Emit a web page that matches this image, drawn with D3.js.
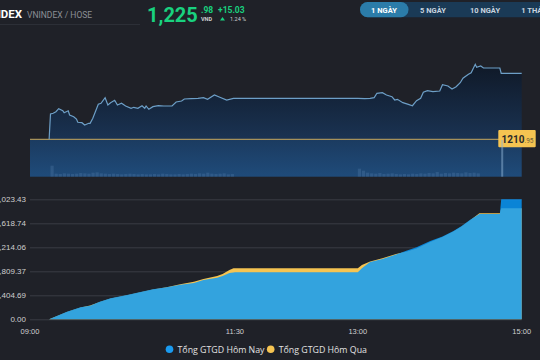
<!DOCTYPE html>
<html><head><meta charset="utf-8">
<script src="https://cdn.jsdelivr.net/npm/d3@7/dist/d3.min.js"></script>
<style>
html,body{margin:0;padding:0;background:#1f2128;overflow:hidden}
svg{display:block}
</style></head><body>
<svg id="c" width="540" height="360"></svg>
<script>
// ---- data ----
const priceTimes = ["09:14","09:15","09:17","09:19","09:21","09:24","09:25","09:28","09:29","09:32","09:34","09:35","09:38","09:40","09:43","09:44","09:46","09:50","09:52","09:55","09:57","09:59","10:02","10:04","10:07","10:10","10:14","10:16","10:19","10:22","10:24","10:25","10:27","10:30","10:34","10:38","10:44","10:47","10:51","10:53","10:58","11:03","11:07","11:10","11:15","11:19","11:24","11:29","11:30","13:00","13:05","13:09","13:12","13:14","13:18","13:21","13:25","13:27","13:29","13:33","13:37","13:40","13:43","13:46","13:48","13:51","13:55","14:00","14:02","14:06","14:09","14:12","14:15","14:17","14:21","14:23","14:26","14:27","14:30","14:32","14:44","14:45","15:00"];
const priceValues = [1210.95,1216.71,1216.87,1217.24,1217.92,1217.46,1217.01,1217.46,1216.49,1216.10,1215.57,1214.82,1214.73,1214.21,1214.59,1214.59,1215.73,1218.92,1219.15,1220.43,1218.76,1219.29,1219.83,1218.76,1219.15,1218.54,1218.01,1218.24,1218.01,1218.60,1218.01,1218.54,1217.78,1218.38,1218.60,1218.54,1218.54,1219.45,1219.67,1220.13,1220.20,1220.29,1220.43,1220.06,1221.04,1220.52,1219.90,1220.29,1220.29,1220.29,1220.20,1220.29,1220.43,1221.43,1221.57,1221.04,1220.65,1219.90,1220.06,1219.29,1218.92,1218.60,1219.74,1220.29,1221.66,1222.02,1221.79,1221.95,1223.39,1223.09,1222.41,1222.93,1223.84,1224.85,1225.76,1226.12,1228.03,1227.35,1227.65,1227.19,1227.19,1225.98,1225.98];
const refPrice = 1210.95;
const lastPrice = "1,225", lastDec = ".98", change = "+15.03", changePct = "1.24 %";

const volMorningStart = "09:15", volAfternoonStart = "13:00", volStepMin = 3;
const volMorning = [33,9,8,10,9,8,9,11,10,9,12,13,10,9,8,9,8,7,8,9,8,7,8,7,7,8,7,9,8,7,7,8,7,8,9,8,10,9,12,9,8,9,10,7,8];
const volAfternoon = [24,18,12,10,9,11,8,9,10,8,7,8,7,9,8,10,9,11,10,14,9,11,10,12,11,10,13,11,12,10];
const volATC = {time:"14:45", value:110};

const valTimes = ["09:14","09:27","09:37","09:44","09:51","09:59","10:11","10:20","10:30","10:40","10:50","11:00","11:07","11:17","11:21","11:26","11:29","11:30","13:00","13:03","13:09","13:18","13:28","13:36","13:43","13:53","14:02","14:10","14:16","14:22","14:29","14:44","14:45","15:00"];
const valToday = [0,761,1202,1363,1763,2104,2435,2705,3006,3206,3467,3637,3938,4168,4350,4639,4700,4709,4709,5110,5741,6042,6493,6893,7214,7845,8296,8847,9348,9949,10551,10551,12023.43,12023.43];
const valYesterday = [0,740,1180,1390,1740,2080,2400,2680,2980,3200,3520,3767,4038,4338,4539,4940,5110,5110,5110,5441,5800,6112,6543,6793,7094,7745,8246,8797,9298,9899,10621,10621,11122,11122];
const valTicks = [0,2404.69,4809.37,7214.06,9618.74,12023.43];
const timeTicks = ["09:00","11:30","13:00","15:00"];
const seriesNames = ["Tổng GTGD Hôm Nay","Tổng GTGD Hôm Qua"];
const ranges = ["1 NGÀY","5 NGÀY","10 NGÀY","1 THÁNG"];

// ---- setup ----
const svg = d3.select("#c");
const parse = s => { const [h,m] = s.split(":").map(Number); return new Date(2000,0,1,h,m); };
const x = d3.scaleTime().domain([parse("09:00"), parse("15:00")]).range([30, 521.7]);
const yP = d3.scaleLinear().domain([1202.43, 1230]).range([176.7, 55.67]);
const yV = d3.scaleLinear().domain([0, 110]).range([176.7, 140]);
const yA = d3.scaleLinear().domain([0, 12023.43]).range([319.3, 199.3]);

const defs = svg.append("defs");
const g1 = defs.append("linearGradient").attr("id","gArea").attr("gradientUnits","userSpaceOnUse")
  .attr("x1",0).attr("x2",0).attr("y1",62).attr("y2",140);
g1.append("stop").attr("offset",0).attr("stop-color","#0f1826");
g1.append("stop").attr("offset",1).attr("stop-color","#1a3353");
const g2 = defs.append("linearGradient").attr("id","gBase").attr("gradientUnits","userSpaceOnUse")
  .attr("x1",0).attr("x2",0).attr("y1",139.3).attr("y2",177);
g2.append("stop").attr("offset",0).attr("stop-color","#1b3b60");
g2.append("stop").attr("offset",1).attr("stop-color","#1f4b7a");

// ---- header ----
svg.append("text").attr("x",22).attr("y",17.5).attr("text-anchor","end")
  .attr("font-family","Roboto").attr("font-weight","bold").attr("font-size",11.5).attr("fill","#ffffff").text("VNINDEX");
svg.append("text").attr("x",27).attr("y",17.5).attr("font-family","Roboto").attr("font-size",8.5)
  .attr("fill","#8c8f96").text("VNINDEX / HOSE");
svg.append("line").attr("x1",0).attr("x2",140).attr("y1",24.5).attr("y2",24.5).attr("stroke","#2c2f37");
const green = "#19d17f";
svg.append("text").attr("x",147).attr("y",21.5).attr("font-family","Roboto").attr("font-weight","bold")
  .attr("font-size",20).attr("fill",green).text(lastPrice);
svg.append("text").attr("x",201).attr("y",13).attr("font-family","Roboto").attr("font-weight","bold")
  .attr("font-size",8.5).attr("fill",green).text(lastDec);
svg.append("text").attr("x",201).attr("y",20.5).attr("font-family","Roboto").attr("font-weight","bold")
  .attr("font-size",5.5).attr("fill","#d0d0d0").text("VND");
svg.append("text").attr("x",218).attr("y",13).attr("font-family","Roboto").attr("font-weight","bold")
  .attr("font-size",8.5).attr("fill",green).text(change);
svg.append("path").attr("d","M220,20.5L222.5,17L225,20.5Z").attr("fill",green);
svg.append("text").attr("x",230).attr("y",20.5).attr("font-family","Roboto")
  .attr("font-size",5.5).attr("fill","#d0d0d0").text(changePct);

// range buttons
svg.append("rect").attr("x",360).attr("y",2).attr("width",200).attr("height",15.3).attr("rx",7.6).attr("fill","#1a3a56");
svg.append("rect").attr("x",360).attr("y",2).attr("width",48.5).attr("height",15.3).attr("rx",7.6).attr("fill","#2b7ca9");
const btnX = [384, 433, 485, 537];
ranges.forEach((r,i) => {
  svg.append("text").attr("x",btnX[i]).attr("y",12.6).attr("text-anchor","middle")
    .attr("font-family","Roboto").attr("font-weight","bold").attr("font-size",7.5)
    .attr("fill", i===0 ? "#ffffff" : "#c9d4df").text(r);
});

// ---- top price panel ----
const priceData = priceTimes.map((t,i) => ({t:parse(t), v:priceValues[i]}));
svg.append("rect").attr("x",x.range()[0]).attr("y",yP(refPrice)).attr("width",x.range()[1]-x.range()[0])
  .attr("height",yP.range()[0]-yP(refPrice)).attr("fill","url(#gBase)");
svg.append("path").datum(priceData)
  .attr("d", d3.area().x(d=>x(d.t)).y0(yP(refPrice)).y1(d=>yP(d.v)))
  .attr("fill","url(#gArea)");

// volume bars
const volData = [];
volMorning.forEach((v,i) => volData.push({t:d3.timeMinute.offset(parse(volMorningStart), i*volStepMin), v}));
volAfternoon.forEach((v,i) => volData.push({t:d3.timeMinute.offset(parse(volAfternoonStart), i*volStepMin), v}));
svg.append("g").selectAll("rect").data(volData).join("rect")
  .attr("x", d=>x(d.t)).attr("width",3.2)
  .attr("y", d=>yV(d.v)).attr("height", d=>yV(0)-yV(d.v))
  .attr("fill","#6f98c2").attr("opacity",0.22);

svg.append("line").attr("x1",x.range()[0]).attr("x2",x.range()[1]).attr("y1",yP(refPrice)).attr("y2",yP(refPrice))
  .attr("stroke","#c9a95e").attr("stroke-width",1);

svg.append("path").datum(priceData)
  .attr("d", d3.line().x(d=>x(d.t)).y(d=>yP(d.v)))
  .attr("fill","none").attr("stroke","#6d9fc7").attr("stroke-width",1.2);

// ref label
const ry = yP(refPrice);
svg.append("rect").attr("x",498.3).attr("y",ry-9.3).attr("width",37.4).attr("height",17.3).attr("rx",1).attr("fill","#f5c451");
svg.append("rect").attr("x",x(parse(volATC.time))).attr("width",2)
  .attr("y",yV(volATC.value)).attr("height",yV(0)-yV(volATC.value))
  .attr("fill","#8fb3d6").attr("opacity",0.5);
const lt = svg.append("text").attr("x",501.5).attr("y",ry+3.6).attr("font-family","Roboto").attr("font-weight","bold")
  .attr("font-size",10).attr("fill","#2a2a2a");
lt.append("tspan").text(d3.format(".2f")(refPrice).split(".")[0]);
lt.append("tspan").attr("font-size",6.5).attr("font-weight","normal").attr("fill","#6f6238").text("."+d3.format(".2f")(refPrice).split(".")[1]);

// ---- bottom value panel ----
svg.append("g").selectAll("line").data(valTicks).join("line")
  .attr("x1",x.range()[0]).attr("x2",x.range()[1]).attr("y1",d=>yA(d)+0.5).attr("y2",d=>yA(d)+0.5)
  .attr("stroke","#393c44").attr("stroke-width",1);
svg.append("g").selectAll("text").data(valTicks).join("text")
  .attr("x",26).attr("y",d=>yA(d)+3).attr("text-anchor","end")
  .attr("font-family","Liberation Sans").attr("font-size",8).attr("fill","#cfcfcf")
  .text(d=>d3.format(",.2f")(d));

const valData = valTimes.map((t,i) => ({t:parse(t), a:valToday[i], b:valYesterday[i]}));
svg.append("path").datum(valData)
  .attr("d", d3.area().x(d=>x(d.t)).y0(yA(0)).y1(d=>yA(d.b)))
  .attr("fill","#f5c452");
svg.append("path").datum(valData)
  .attr("d", d3.area().x(d=>x(d.t)).y0(yA(0)).y1(d=>yA(d.a)))
  .attr("fill","#069bff").attr("fill-opacity",0.81);

// x axis labels
svg.append("g").selectAll("text").data(timeTicks).join("text")
  .attr("x",d=>x(parse(d))).attr("y",333.5).attr("text-anchor","middle")
  .attr("font-family","Liberation Sans").attr("font-size",7.5).attr("fill","#d0d0d0").text(d=>d);

// legend
const legX = [169.5, 270.7];
const legC = ["#1a9bf0","#f5c452"];
seriesNames.forEach((n,i) => {
  svg.append("circle").attr("cx",legX[i]).attr("cy",349.3).attr("r",3.8).attr("fill",legC[i]);
  svg.append("text").attr("x",legX[i]+8).attr("y",352.5).attr("font-family","Open Sans")
    .attr("font-size",8.8).attr("fill","#e2e2e2").text(n);
});
</script>
</body></html>
